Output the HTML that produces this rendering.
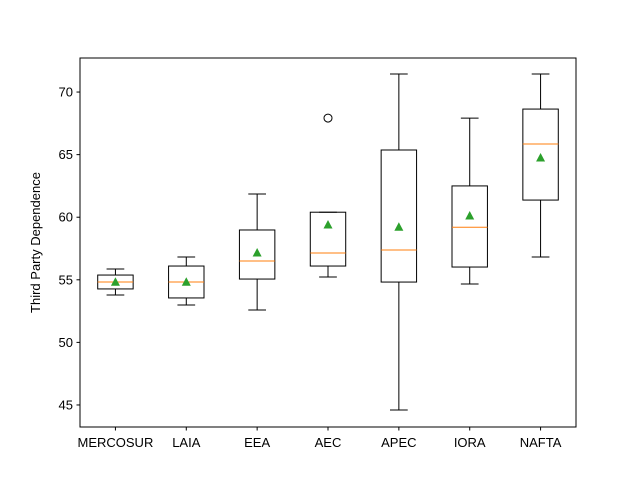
<!DOCTYPE html>
<html><head><meta charset="utf-8"><style>
html,body{margin:0;padding:0;background:#fff;}
svg{display:block;font-family:"Liberation Sans","DejaVu Sans",sans-serif;}
</style></head><body>
<svg id="chart" width="640" height="480"></svg>
<script>
const categories=["MERCOSUR","LAIA","EEA","AEC","APEC","IORA","NAFTA"];
const whiskerLow=[53.79,52.99,52.59,55.22,44.6,54.66,56.82];
const q1=[54.27,53.55,55.06,56.1,54.82,56.02,61.37];
const median=[54.82,54.82,56.5,57.14,57.38,59.2,65.85];
const q3=[55.38,56.1,58.98,60.4,65.37,62.5,68.64];
const whiskerHigh=[55.86,56.82,61.85,60.4,71.44,67.92,71.44];
const means=[54.8,54.8,57.14,59.38,59.2,60.1,64.73];
const outliers=[[],[],[],[67.92],[],[],[]];
const yTicks=[45,50,55,60,65,70];

const NS="http://www.w3.org/2000/svg";
const svg=document.getElementById('chart');
const L=80,R=576,T=58,B=427,ymin=43.24,ymax=72.72;
const x=i=>L+(i+1-0.5)/7*(R-L);
const y=v=>B-(v-ymin)/(ymax-ymin)*(B-T);
function mk(tag,attrs,parent){const e=document.createElementNS(NS,tag);for(const k in attrs)e.setAttribute(k,attrs[k]);(parent||svg).appendChild(e);return e;}
const hw=0.25*(R-L)/7, cw=hw/2;
categories.forEach((c,i)=>{
  const g=mk('g',{});
  
  
  const cx=x(i);
  mk('line',{x1:cx,x2:cx,y1:y(q1[i]),y2:y(whiskerLow[i]),stroke:'#000','stroke-width':1},g);
  mk('line',{x1:cx,x2:cx,y1:y(q3[i]),y2:y(whiskerHigh[i]),stroke:'#000','stroke-width':1},g);
  mk('line',{x1:cx-cw,x2:cx+cw,y1:y(whiskerLow[i]),y2:y(whiskerLow[i]),stroke:'#000'},g);
  mk('line',{x1:cx-cw,x2:cx+cw,y1:y(whiskerHigh[i]),y2:y(whiskerHigh[i]),stroke:'#000'},g);
  mk('rect',{x:cx-hw,y:y(q3[i]),width:2*hw,height:y(q1[i])-y(q3[i]),fill:'none',stroke:'#000'},g);
  mk('line',{x1:cx-hw,x2:cx+hw,y1:y(median[i]),y2:y(median[i]),stroke:'#ff7f0e'},g);
  const my=y(means[i]);
  mk('polygon',{points:`${cx},${my-5} ${cx-4.5},${my+3.5} ${cx+4.5},${my+3.5}`,fill:'#2ca02c'},g);
  outliers[i].forEach(o=>mk('circle',{cx:cx,cy:y(o),r:4,fill:'none',stroke:'#000'},g));
  mk('line',{x1:cx,x2:cx,y1:B,y2:B+3.5,stroke:'#000'});
  const t=mk('text',{x:cx,y:B+20,'text-anchor':'middle','font-size':13});
  t.textContent=c;
  
  
});
yTicks.forEach(v=>{
  mk('line',{x1:L-3.5,x2:L,y1:y(v),y2:y(v),stroke:'#000'});
  const t=mk('text',{x:L-7,y:y(v)+4.5,'text-anchor':'end','font-size':13});
  t.textContent=v;
  
  
});
const ax=mk('rect',{x:L,y:T,width:R-L,height:B-T,fill:'none',stroke:'#000','stroke-width':1});


const yl=mk('text',{x:0,y:0,transform:`translate(44,${(T+B)/2}) rotate(-90)`,'text-anchor':'middle','font-size':13});
yl.setAttribute('transform',`translate(40,${(T+B)/2}) rotate(-90)`);
yl.textContent='Third Party Dependence';


</script>
</body></html>
